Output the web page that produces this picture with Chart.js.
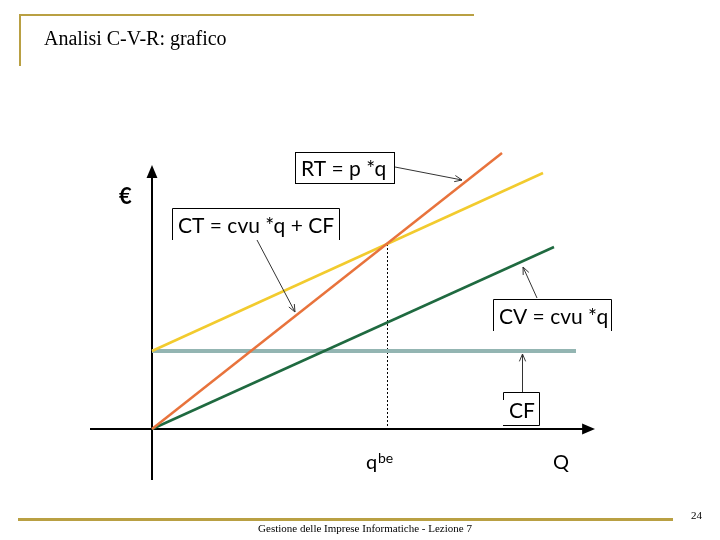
<!DOCTYPE html>
<html>
<head>
<meta charset="utf-8">
<script src="https://cdn.jsdelivr.net/npm/chart.js@4"></script>
<style>
  body { margin: 0; background: #fff; }
  #page { position: relative; width: 720px; height: 540px; overflow: hidden; }
  #chart { position: absolute; left: 0; top: 0; }
  .gold { position: absolute; background: #b9a043; }
  #title { position: absolute; left: 44px; top: 27px; font: 20px "Liberation Serif", serif; color: #000; }
  #footer { position: absolute; left: 0; width: 730px; top: 522px; text-align: center; font: 11px "Liberation Serif", serif; color: #000; }
  #pageNum { position: absolute; left: 691px; top: 509px; font: 11px "Liberation Serif", serif; }
</style>
</head>
<body>
<div id="page">
  <canvas id="chart" width="720" height="540"></canvas>
  <div class="gold" style="left:19px; top:14px; width:455px; height:2px;"></div>
  <div class="gold" style="left:19px; top:14px; width:2px; height:52px;"></div>
  <div class="gold" style="left:18px; top:518px; width:655px; height:3px;"></div>
  <div id="title">Analisi C-V-R: grafico</div>
  <div id="footer">Gestione delle Imprese Informatiche - Lezione 7</div>
  <div id="pageNum">24</div>
</div>
<script>
// quantities (Q) and values (€)
const rtQ = [0, 350];
const rtValues = [0, 276];
const ctQ = [0, 391];
const ctValues = [78, 256];
const cvQ = [0, 402];
const cvValues = [0, 182];
const cfQ = [0, 424];
const cfValues = [78, 78];
const breakEvenQ = 235;
const breakEvenValue = 185;

const xMin = -62, xMax = 443;
const yMin = -51, yMax = 269;

const toPoints = (qs, vs) => qs.map((q, i) => ({ x: q, y: vs[i] }));

function arrowHead(ctx, x1, y1, x2, y2, size, filled) {
    const a = Math.atan2(y2 - y1, x2 - x1);
    ctx.beginPath();
    ctx.moveTo(x2 - size * Math.cos(a - 0.4), y2 - size * Math.sin(a - 0.4));
    ctx.lineTo(x2, y2);
    ctx.lineTo(x2 - size * Math.cos(a + 0.4), y2 - size * Math.sin(a + 0.4));
    if (filled) {
        ctx.closePath();
        ctx.fill();
    } else {
        ctx.stroke();
    }
}

function pointer(ctx, x1, y1, x2, y2) {
    ctx.save();
    ctx.strokeStyle = '#333';
    ctx.lineWidth = 1;
    ctx.beginPath();
    ctx.moveTo(x1, y1);
    ctx.lineTo(x2, y2);
    ctx.stroke();
    arrowHead(ctx, x1, y1, x2, y2, 8, false);
    ctx.restore();
}

const axesPlugin = {
    id: 'axesPlugin',
    beforeDatasetsDraw(chart) {
        const ctx = chart.ctx;
        const x = chart.scales.x, y = chart.scales.y;
        const x0 = x.getPixelForValue(0), y0 = y.getPixelForValue(0);
        ctx.save();
        ctx.strokeStyle = '#000';
        ctx.fillStyle = '#000';
        ctx.lineWidth = 2;
        // Q axis
        const xEnd = x.getPixelForValue(xMax);
        ctx.beginPath();
        ctx.moveTo(x.getPixelForValue(xMin), y0);
        ctx.lineTo(xEnd - 8, y0);
        ctx.stroke();
        arrowHead(ctx, xEnd - 20, y0, xEnd, y0, 14, true);
        // € axis
        const yTop = y.getPixelForValue(264);
        ctx.beginPath();
        ctx.moveTo(x0, y.getPixelForValue(yMin));
        ctx.lineTo(x0, yTop + 8);
        ctx.stroke();
        arrowHead(ctx, x0, yTop + 20, x0, yTop, 14, true);
        // break-even marker
        const bx = x.getPixelForValue(breakEvenQ);
        ctx.lineWidth = 1;
        ctx.setLineDash([2, 2]);
        ctx.beginPath();
        ctx.moveTo(bx + 0.5, y.getPixelForValue(breakEvenValue));
        ctx.lineTo(bx + 0.5, y0);
        ctx.stroke();
        ctx.restore();
    },
    afterDatasetsDraw(chart) {
        const ctx = chart.ctx;
        ctx.save();
        ctx.fillStyle = '#000';
        ctx.strokeStyle = '#000';
        ctx.lineWidth = 1;
        ctx.textBaseline = 'alphabetic';
        ctx.font = '21px Lato, "Noto Sans", sans-serif';

        // label boxes
        ctx.strokeRect(295.5, 152.5, 99, 31);
        ctx.fillText('RT = p *q', 301, 176);

        ctx.beginPath();
        ctx.moveTo(172.5, 240); ctx.lineTo(172.5, 208.5); ctx.lineTo(339.5, 208.5); ctx.lineTo(339.5, 240);
        ctx.stroke();
        ctx.fillText('CT = cvu *q + CF', 178, 233);

        ctx.beginPath();
        ctx.moveTo(493.5, 331); ctx.lineTo(493.5, 299.5); ctx.lineTo(611.5, 299.5); ctx.lineTo(611.5, 331);
        ctx.stroke();
        ctx.fillText('CV = cvu *q', 499, 324);

        ctx.beginPath();
        ctx.moveTo(503.5, 400); ctx.lineTo(503.5, 392.5); ctx.lineTo(539.5, 392.5); ctx.lineTo(539.5, 425.5); ctx.lineTo(503, 425.5);
        ctx.stroke();
        ctx.fillText('CF', 509, 418);

        // pointers
        pointer(ctx, 395, 167, 462, 180);
        pointer(ctx, 257, 240, 295, 312);
        pointer(ctx, 537, 298, 523, 267);
        pointer(ctx, 522.5, 392, 522.5, 354);

        // axis labels
        ctx.font = 'bold 22px Lato, "Noto Sans", sans-serif';
        ctx.fillText('€', 119, 204);
        ctx.font = '20px Lato, "Noto Sans", sans-serif';
        ctx.fillText('Q', 553, 469);
        ctx.fillText('q', 366, 469);
        ctx.font = '14px Lato, "Noto Sans", sans-serif';
        ctx.fillText('be', 378, 463);
        ctx.restore();
    }
};

new Chart(document.getElementById('chart'), {
    type: 'scatter',
    data: {
        datasets: [
            { label: 'RT', data: toPoints(rtQ, rtValues), borderColor: '#e8733c', borderWidth: 2.5, order: 1 },
            { label: 'CT', data: toPoints(ctQ, ctValues), borderColor: '#f2cb2e', borderWidth: 2.5, order: 2 },
            { label: 'CV', data: toPoints(cvQ, cvValues), borderColor: '#1f6a40', borderWidth: 2.5, order: 3 },
            { label: 'CF', data: toPoints(cfQ, cfValues), borderColor: '#93b5b2', borderWidth: 4, order: 4 }
        ].map(ds => ({ ...ds, showLine: true, pointRadius: 0, fill: false, clip: false }))
    },
    options: {
        responsive: false,
        animation: false,
        layout: { padding: { left: 90, top: 160, right: 125, bottom: 60 } },
        plugins: { legend: { display: false }, tooltip: { enabled: false } },
        scales: {
            x: { type: 'linear', min: xMin, max: xMax, display: false },
            y: { type: 'linear', min: yMin, max: yMax, display: false }
        }
    },
    plugins: [axesPlugin]
});
</script>
</body>
</html>
